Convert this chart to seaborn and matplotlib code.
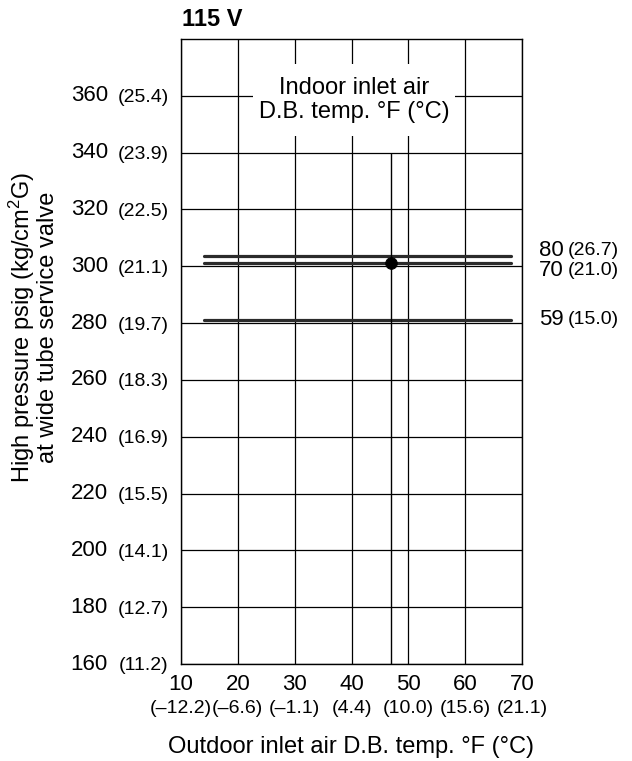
import matplotlib
matplotlib.use('Agg')
import matplotlib.pyplot as plt
from matplotlib.patches import Rectangle
import seaborn as sns
import pandas as pd

# ---------------- data ----------------
x_ticks = [10, 20, 30, 40, 50, 60, 70]
x_ticks_c = ['(–12.2)', '(–6.6)', '(–1.1)', '(4.4)', '(10.0)', '(15.6)', '(21.1)']
y_ticks = [160, 180, 200, 220, 240, 260, 280, 300, 320, 340, 360]
y_ticks_c = ['(11.2)', '(12.7)', '(14.1)', '(15.5)', '(16.9)', '(18.3)',
             '(19.7)', '(21.1)', '(22.5)', '(23.9)', '(25.4)']
indoor_f = ['80', '70', '59']
indoor_c = ['(26.7)', '(21.0)', '(15.0)']
indoor_pressure = [303.5, 301.0, 281.2]
label_pressure = [305.6, 298.6, 281.4]
outdoor_start = 14
outdoor_end = 68
rated_outdoor = 47
rated_pressure = 301
vline_low = 160
vline_high = 340

# ---------------- style ----------------
sns.set_theme(style='white')
plt.rcParams['font.family'] = ['Liberation Sans', 'DejaVu Sans']
plt.rcParams['mathtext.fontset'] = 'custom'
plt.rcParams['mathtext.rm'] = 'Liberation Sans'
plt.rcParams['mathtext.it'] = 'Liberation Sans'

BIG = 16
SMALL = 14
LABEL = 17

fig = plt.figure(figsize=(6.32, 7.61), dpi=100)
ax = fig.add_axes([181/632, 1 - 664/761, 341/632, 625/761])

rows = []
for f, p in zip(indoor_f, indoor_pressure):
    rows.append({'indoor': f, 'outdoor': outdoor_start, 'pressure': p})
    rows.append({'indoor': f, 'outdoor': outdoor_end, 'pressure': p})
df = pd.DataFrame(rows)

sns.lineplot(data=df, x='outdoor', y='pressure', units='indoor', estimator=None,
             color='#2b2b2b', lw=2.3, ax=ax, zorder=3, legend=False)
ax.vlines(rated_outdoor, vline_low, vline_high, color='black', lw=1.0, zorder=3)
sns.scatterplot(x=[rated_outdoor], y=[rated_pressure], color='black', s=70,
                edgecolor='black', ax=ax, zorder=4, legend=False)

ax.set_xlim(10, 70)
ax.set_ylim(160, 380)
ax.set_xticks(x_ticks)
ax.set_xticklabels([str(v) for v in x_ticks], fontsize=BIG, color='black')
ax.set_yticks(y_ticks)
ax.set_yticklabels(y_ticks_c, fontsize=SMALL, color='black')
ax.tick_params(axis='both', length=0)
ax.tick_params(axis='x', pad=7)
ax.tick_params(axis='y', pad=9)
ax.grid(True, color='black', lw=0.9)
ax.set_axisbelow(True)
for s in ax.spines.values():
    s.set_color('black')
    s.set_linewidth(1.0)
ax.set_xlabel('')
ax.set_ylabel('')

# white box for the inner label
ax.add_patch(Rectangle((22.7, 345.9), 35.5, 25.3, facecolor='white',
                       edgecolor='none', zorder=1))
ax.text(40.5, 358.6, 'Indoor inlet air\nD.B. temp. °F (°C)', ha='center',
        va='center', fontsize=LABEL, color='black', zorder=2, linespacing=1.15)

# y Fahrenheit numbers
for v in y_ticks:
    ax.annotate(str(v), xy=(0, v), xycoords=('axes fraction', 'data'),
                xytext=(-52.6, 0), textcoords='offset points', ha='right',
                va='center', fontsize=BIG, color='black', annotation_clip=False)

# x Celsius labels
for v, c in zip(x_ticks, x_ticks_c):
    ax.annotate(c, xy=(v, 0), xycoords=('data', 'axes fraction'),
                xytext=(0, -32), textcoords='offset points', ha='center',
                va='center', fontsize=SMALL, color='black', annotation_clip=False)

# right-side indoor labels
for f, c, p in zip(indoor_f, indoor_c, label_pressure):
    ax.annotate(f, xy=(1, p), xycoords=('axes fraction', 'data'),
                xytext=(12.2, 0), textcoords='offset points', ha='left',
                va='center', fontsize=BIG, color='black', annotation_clip=False)
    ax.annotate(c, xy=(1, p), xycoords=('axes fraction', 'data'),
                xytext=(33, 0), textcoords='offset points', ha='left',
                va='center', fontsize=SMALL, color='black', annotation_clip=False)

# axis titles
ax.text(-0.434, 0.538,
        'High pressure psig (kg/cm$^{2}$G)\nat wide tube service valve',
        transform=ax.transAxes, rotation=90, ha='center', va='center',
        multialignment='center', fontsize=LABEL, color='black', linespacing=1.0)
ax.annotate('Outdoor inlet air D.B. temp. °F (°C)', xy=(0.5, 0),
            xycoords='axes fraction', xytext=(0, -60), textcoords='offset points',
            ha='center', va='center', fontsize=LABEL, color='black',
            annotation_clip=False)

fig.text(182/632, 1 - 20/761, '115 V', ha='left', va='center', fontsize=17,
         fontweight='bold', color='black')

fig.savefig('out.png', dpi=100)
